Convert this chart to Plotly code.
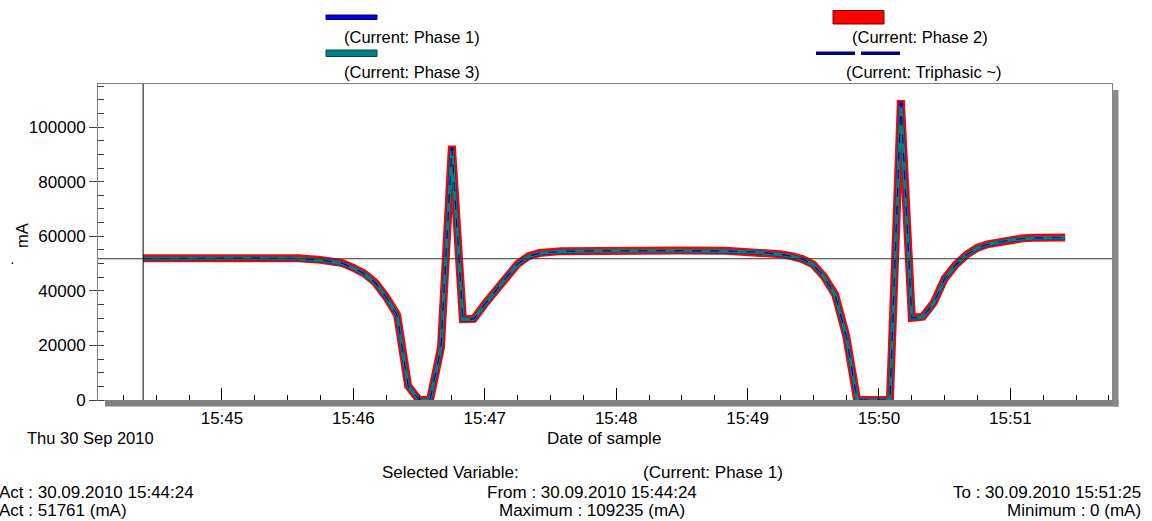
import plotly.graph_objects as go

DAY = "2010-09-30 "
TIMES = ["15:44:24", "15:44:40", "15:45:00", "15:45:10", "15:45:25", "15:45:35", "15:45:45",
         "15:45:50", "15:45:55", "15:46:00", "15:46:05", "15:46:10", "15:46:15", "15:46:20",
         "15:46:25", "15:46:30", "15:46:35", "15:46:40", "15:46:45", "15:46:50", "15:46:55",
         "15:47:00", "15:47:05", "15:47:10", "15:47:15", "15:47:20", "15:47:25", "15:47:35",
         "15:47:50", "15:48:10", "15:48:30", "15:48:50", "15:49:05", "15:49:15", "15:49:20",
         "15:49:25", "15:49:30", "15:49:35", "15:49:40", "15:49:45", "15:49:50", "15:49:55",
         "15:50:00", "15:50:05", "15:50:10", "15:50:15", "15:50:20", "15:50:25", "15:50:30",
         "15:50:35", "15:50:40", "15:50:45", "15:50:50", "15:50:55", "15:51:00", "15:51:05",
         "15:51:10", "15:51:25"]

PHASE1 = [51761, 51900, 52000, 51950, 51850, 51750, 51200,
          50700, 50000, 48300, 46200, 42900, 37600, 31000,
          5000, 0, 0, 19000, 92500, 29500, 29600,
          35000, 40200, 45000, 49700, 52600, 53700, 54400,
          54600, 54700, 54600, 54500, 54100, 53300, 52600,
          51500, 49500, 45000, 38500, 23500, 0, 0,
          0, 0, 109235, 30000, 30400, 35500, 44300,
          49400, 53100, 55700, 57000, 57900, 58600, 59000,
          59300, 59400]
PHASE2 = [51900, 52050, 52150, 52100, 52000, 51900, 51350,
          50850, 50150, 48450, 46350, 43050, 37750, 31150,
          5150, 0, 0, 19200, 93200, 29650, 29750,
          35150, 40350, 45150, 49850, 52750, 53850, 54550,
          54750, 54850, 54750, 54650, 54250, 53450, 52750,
          51650, 49650, 45150, 38650, 23650, 0, 0,
          0, 0, 109900, 30150, 30550, 35650, 44450,
          49550, 53250, 55850, 57150, 58050, 58750, 59150,
          59450, 59550]
PHASE3 = [51800, 51950, 52050, 52000, 51900, 51800, 51250,
          50750, 50050, 48350, 46250, 42950, 37650, 31050,
          5050, 0, 0, 19100, 91500, 29550, 29650,
          35050, 40250, 45050, 49750, 52650, 53750, 54450,
          54650, 54750, 54650, 54550, 54150, 53350, 52650,
          51550, 49550, 45050, 38550, 23550, 0, 0,
          0, 0, 107800, 30050, 30450, 35550, 44350,
          49450, 53150, 55750, 57050, 57950, 58650, 59050,
          59350, 59450]
TRIPHASIC = [51820, 51980, 52080, 52030, 51930, 51830, 51280,
             50780, 50080, 48380, 46280, 42980, 37680, 31080,
             5080, 0, 0, 19100, 92400, 29580, 29680,
             35080, 40280, 45080, 49780, 52680, 53780, 54480,
             54680, 54780, 54680, 54580, 54180, 53380, 52680,
             51580, 49580, 45080, 38580, 23580, 0, 0,
             0, 0, 108900, 30080, 30480, 35580, 44380,
             49480, 53180, 55780, 57080, 57980, 58680, 59080,
             59380, 59480]

CURSOR_TIME = "15:44:24"
CURSOR_VALUE = 51761
X_RANGE = ["15:44:03.4", "15:51:46.4"]
Y_RANGE = [0, 115800]

FONT = "Liberation Sans, Arial, sans-serif"
FS = 17
FS_LEG = 16.5

W, H = 1152, 521
L, R, T, B = 98, 1112, 84, 400


def px(x):
    return (x - L) / (R - L)


def py(y):
    return (B - y) / (B - T)


x = [DAY + t for t in TIMES]

fig = go.Figure()
fig.add_trace(go.Scatter(x=x, y=PHASE2, mode="lines", name="(Current: Phase 2)",
                         line=dict(color="#ff0000", width=8)))
fig.add_trace(go.Scatter(x=x, y=PHASE1, mode="lines", name="(Current: Phase 1)",
                         line=dict(color="#1a1aa0", width=4.2)))
fig.add_trace(go.Scatter(x=x, y=PHASE3, mode="lines", name="(Current: Phase 3)",
                         line=dict(color="#008080", width=3.6)))
fig.add_trace(go.Scatter(x=x, y=TRIPHASIC, mode="lines", name="(Current: Triphasic ~)",
                         line=dict(color="#000080", width=1.1, dash="dash")))

shapes = []
# shadows
shapes.append(dict(type="rect", xref="paper", yref="paper", x0=px(105), x1=px(1118.5),
                   y0=py(400), y1=py(406.5), fillcolor="#808080", line=dict(width=0)))
shapes.append(dict(type="rect", xref="paper", yref="paper", x0=px(1112.5), x1=px(1118.5),
                   y0=py(90), y1=py(406.5), fillcolor="#8a8a8a", line=dict(width=0)))
# cursor lines
shapes.append(dict(type="line", xref="x", yref="paper", x0=DAY + CURSOR_TIME, x1=DAY + CURSOR_TIME,
                   y0=0, y1=1, line=dict(color="black", width=1)))
shapes.append(dict(type="line", xref="paper", yref="y", x0=0, x1=1,
                   y0=CURSOR_VALUE, y1=CURSOR_VALUE, line=dict(color="#303030", width=1)))
# legend swatches
shapes.append(dict(type="rect", xref="paper", yref="paper", x0=px(326), x1=px(377),
                   y0=py(15), y1=py(19.5), fillcolor="#0000e0", line=dict(color="#000070", width=1)))
shapes.append(dict(type="rect", xref="paper", yref="paper", x0=px(326), x1=px(377),
                   y0=py(50), y1=py(56.5), fillcolor="#008080", line=dict(color="#004848", width=1)))
shapes.append(dict(type="rect", xref="paper", yref="paper", x0=px(833), x1=px(884),
                   y0=py(10.5), y1=py(24), fillcolor="#ff0000", line=dict(color="#800000", width=1)))
shapes.append(dict(type="rect", xref="paper", yref="paper", x0=px(816), x1=px(855),
                   y0=py(51.5), y1=py(55), fillcolor="#000080", line=dict(width=0)))
shapes.append(dict(type="rect", xref="paper", yref="paper", x0=px(861), x1=px(900),
                   y0=py(51.5), y1=py(55), fillcolor="#000080", line=dict(width=0)))


def ann(text, xx, yy, xanchor="left", angle=0, size=FS):
    return dict(text=text, xref="paper", yref="paper", x=px(xx), y=py(yy),
                xanchor=xanchor, yanchor="middle", showarrow=False, textangle=angle,
                font=dict(family=FONT, size=size, color="black"))


annotations = [
    ann("(Current: Phase 1)", 342, 37, size=FS_LEG),
    ann("(Current: Phase 3)", 342, 72, size=FS_LEG),
    ann("(Current: Phase 2)", 850, 37, size=FS_LEG),
    ann("(Current: Triphasic ~)", 844, 72, size=FS_LEG),
    ann("Thu 30 Sep 2010", 25, 438, size=16.5),
    ann("Date of sample", 604, 438, "center"),
    ann("mA", 22, 236, "center", -90, 16.5),
    ann("·", 12, 262, "center", 0, 14),
    ann("Selected Variable:", 380, 473),
    ann("(Current: Phase 1)", 641, 473),
    ann("Act : 30.09.2010 15:44:24", -3, 492),
    ann("Act : 51761 (mA)", -3, 510),
    ann("From : 30.09.2010 15:44:24", 592, 492, "center"),
    ann("Maximum : 109235 (mA)", 592, 510, "center"),
    ann("To : 30.09.2010 15:51:25", 1143, 492, "right"),
    ann("Minimum : 0 (mA)", 1143, 510, "right"),
]

fig.update_layout(
    width=W, height=H, autosize=False,
    margin=dict(l=L, r=W - R, t=T, b=H - B, pad=0),
    paper_bgcolor="white", plot_bgcolor="white",
    showlegend=False,
    font=dict(family=FONT, size=FS, color="black"),
    shapes=shapes, annotations=annotations,
    xaxis=dict(type="date", range=[DAY + X_RANGE[0], DAY + X_RANGE[1]],
               tickformat="%H:%M", dtick=60000, tick0=DAY + "15:45:00",
               ticks="inside", ticklen=12, tickwidth=1, tickcolor="black",
               minor=dict(dtick=15000, ticks="inside", ticklen=5, tickcolor="black", showgrid=False),
               showline=True, linecolor="#808080", linewidth=1, mirror=True,
               showgrid=False, zeroline=False, ticklabelstandoff=3,
               tickfont=dict(family=FONT, size=FS, color="black")),
    yaxis=dict(range=Y_RANGE, dtick=20000, tick0=0, tickformat="d",
               ticks="outside", ticklen=8, tickwidth=1, tickcolor="#404040",
               minor=dict(dtick=5000, ticks="inside", ticklen=6, tickcolor="#404040", showgrid=False),
               showline=True, linecolor="#808080", linewidth=1, mirror=True,
               showgrid=False, zeroline=False,
               tickfont=dict(family=FONT, size=FS, color="black")),
)

fig.write_html("out.html", config={"displayModeBar": False},
               post_script="document.body.style.margin='0';document.body.style.overflow='hidden';")
